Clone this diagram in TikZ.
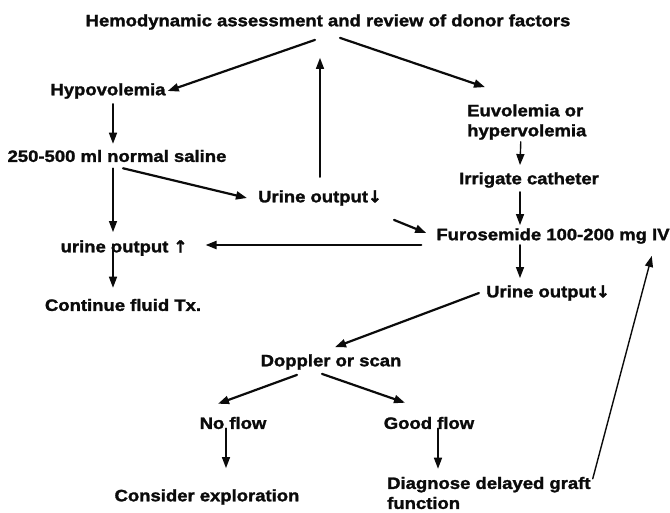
\documentclass[tikz,border=0pt]{standalone}
\usepackage{fontspec}
\setmainfont[FakeStretch=1.12, BoldFeatures={FakeBold=1.6}]{Liberation Sans}
\newfontfamily\arrowfont[FakeBold=2]{DejaVu Sans}
\usetikzlibrary{arrows.meta}
\definecolor{ink}{HTML}{0B0B0B}
\definecolor{paper}{HTML}{FFFFFF}
\newcommand{\lessarrow}{{\arrowfont\bfseries ↓}}
\newcommand{\morearrow}{{\arrowfont\bfseries ↑}}
\tikzset{lbl/.style={inner sep=2pt, text=ink, font=\fontsize{16.5}{20}\selectfont\bfseries},
  flow/.style={draw=ink, line width=1.4pt, line cap=round, -{Triangle[length=11pt,width=8pt]}},
  heavy/.style={flow, line width=2.2pt}}

\begin{document}
\begin{tikzpicture}[x=1pt,y=-1pt]
  \fill[paper] (0,0) rectangle (670,512);
  \useasboundingbox (0,0) rectangle (670,512);
  \node[lbl] (assess) at (328,22) {Hemodynamic assessment and review of donor factors};
  \node[lbl] (hypo) at (108,91) {Hypovolemia};
  \node[lbl,anchor=west,align=left] (euvo) at (465,122) {Euvolemia or\\hypervolemia};
  \node[lbl] (saline) at (117,156) {250-500 ml normal saline};
  \node[lbl] (irrig) at (529,180) {Irrigate catheter};
  \node[lbl] (uodown) at (320,198) {Urine output\lessarrow};
  \node[lbl] (furo) at (553,236) {Furosemide 100-200 mg IV};
  \node[lbl] (uoup) at (124,248) {urine output \morearrow};
  \node[lbl] (fluid) at (123,305) {Continue fluid Tx.};
  \node[lbl] (uolow) at (548,293) {Urine output\lessarrow};
  \node[lbl] (doppler) at (331,362) {Doppler or scan};
  \node[lbl] (noflow) at (233,423) {No flow};
  \node[lbl] (goodflow) at (429,423) {Good flow};
  \node[lbl] (explore) at (207,497) {Consider exploration};
  \node[lbl,anchor=west,align=left] (dgf) at (385,493) {Diagnose delayed graft\\function};
  \draw[heavy] ([shift={(-13pt,-8pt)}]assess.south) -- (hypo.east);
  \draw[heavy] ([shift={(12pt,-6pt)}]assess.south) -- ([shift={(20pt,15pt)}]euvo.north west);
  \draw[flow] ([yshift=11pt]uodown.north) -- ([yshift=-26pt]uodown.north |- assess.south);
  \draw[flow] ([shift={(5pt,-3pt)}]hypo.south) -- ([shift={(-4pt,4pt)}]saline.north);
  \draw[flow] ([shift={(-4pt,-4pt)}]saline.south) -- ([shift={(-11pt,6pt)}]uoup.north);
  \draw[heavy] ([shift={(6pt,-4pt)}]saline.south) -- ([xshift=-9pt]uodown.west);
  \draw[heavy] ([shift={(10pt,-12pt)}]uodown.south east) -- ([shift={(-8pt,3pt)}]furo.west);
  \draw[flow] ([xshift=-6pt]euvo.south) -- ([shift={(-9pt,5pt)}]irrig.north);
  \draw[flow] ([shift={(-9pt,-2pt)}]irrig.south) -- ([shift={(-33pt,1pt)}]furo.north);
  \draw[heavy] ([shift={(-13pt,-9pt)}]furo.west) -- ([shift={(16pt,3pt)}]uoup.east);
  \draw[flow] ([shift={(-11pt,4pt)}]uoup.center) -- ([shift={(-10pt,9pt)}]fluid.north);
  \draw[flow] ([shift={(-33pt,1pt)}]furo.south) -- ([shift={(-28pt,5pt)}]uolow.north);
  \draw[heavy] ([xshift=-5pt]uolow.west) -- ([shift={(4pt,5pt)}]doppler.north);
  \draw[heavy] ([shift={(-34pt,-3pt)}]doppler.south) -- ([shift={(-15pt,11pt)}]noflow.north);
  \draw[heavy] ([shift={(-9pt,-2pt)}]doppler.south) -- ([shift={(-24pt,12pt)}]goodflow.north);
  \draw[flow] ([shift={(-7pt,3pt)}]noflow.south) -- ([shift={(19pt,19pt)}]explore.north);
  \draw[flow] ([shift={(9pt,3pt)}]goodflow.south) -- ([shift={(53pt,6pt)}]dgf.north west);
  \draw[flow] ([shift={(0pt,-4pt)}]dgf.north east) -- ([shift={(-20pt,-10pt)}]furo.south east);
\end{tikzpicture}
\end{document}
